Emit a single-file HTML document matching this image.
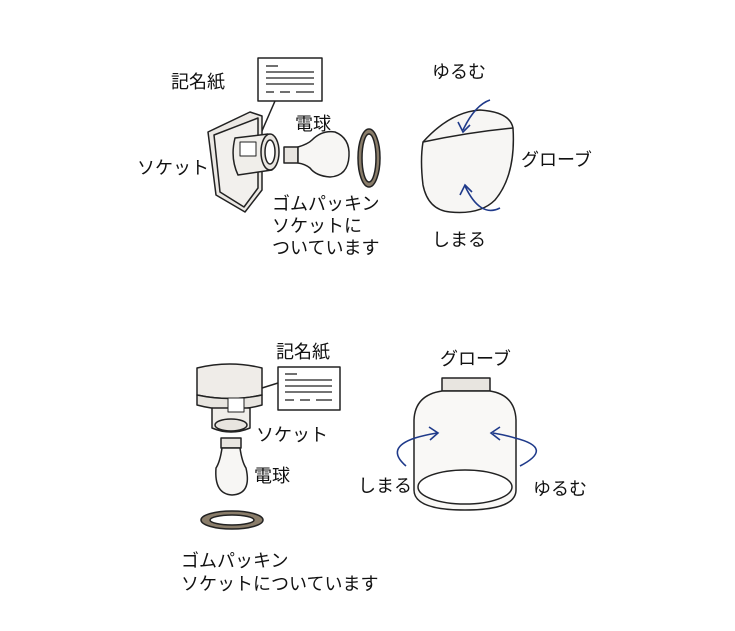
<!DOCTYPE html>
<html><head><meta charset="utf-8"><style>
html,body{margin:0;padding:0;background:#fff;}
svg{display:block}
text{font-family:"Liberation Sans","Noto Sans CJK JP",sans-serif;font-size:18px;fill:#111;}
</style></head><body>
<svg width="735" height="631" viewBox="0 0 735 631" xmlns="http://www.w3.org/2000/svg">
<g stroke="#222" stroke-width="1.5" fill="#f4f2ef" stroke-linejoin="round">
<rect x="258" y="58" width="64" height="43" fill="#fff"/>
<g stroke-width="1.3"><line x1="266" y1="66" x2="278" y2="66"/><line x1="266" y1="72" x2="314" y2="72"/><line x1="266" y1="78" x2="314" y2="78"/><line x1="266" y1="84" x2="314" y2="84"/><line x1="266" y1="92" x2="274" y2="92"/><line x1="280" y1="92" x2="290" y2="92"/><line x1="296" y1="92" x2="314" y2="92"/></g>
<line x1="275" y1="101" x2="258" y2="140" fill="none"/>
<path d="M208 132 L250 112 L262 116 L262 190 L245 212 L216 195 Z" fill="#ebe8e4"/>
<path d="M214 135 L258 118 L258 188 L244 207 L220 192 Z" fill="#f2f0ed"/>
<path d="M235 138 L268 134 L272 170 L238 175 Q230 158 235 138 Z" fill="#f0eeea"/>
<ellipse cx="270" cy="152" rx="9" ry="18" fill="#e8e5e0"/>
<ellipse cx="270" cy="152" rx="5" ry="12" fill="#fff"/>
<rect x="240" y="142" width="16" height="14" fill="#fff" stroke-width="1"/>
<rect x="284" y="147" width="14" height="16" fill="#e8e5e0"/>
<path d="M298 147 Q308 144 312 140 Q322 130 335 132 Q350 138 349 156 Q348 176 330 177 Q316 176 310 168 Q305 164 298 163 Z" fill="#f7f6f4"/>
<ellipse cx="369" cy="158" rx="11" ry="29" fill="#8a7d6a"/>
<ellipse cx="369" cy="158" rx="7" ry="24" fill="#fff"/>
<path d="M423 142 Q450 112 480 110 Q510 112 513 128 Q516 175 495 200 Q480 215 450 212 Q428 210 423 185 Q420 160 423 142 Z" fill="#f7f6f4"/>
<path d="M423 142 Q470 132 513 128" fill="none"/>
</g>
<g fill="none" stroke="#1f3a8a" stroke-width="1.6">
<path d="M490 100 Q475 105 463 130"/><path d="M458 122 L463 132 L470 125"/>
<path d="M500 208 Q480 218 465 186"/><path d="M460 195 L465 185 L472 192"/>
</g>
<g stroke="#222" stroke-width="1.5" fill="#f4f2ef" stroke-linejoin="round">
<path d="M197 368 Q230 360 262 368 L262 395 Q230 402 197 395 Z" fill="#efece8"/>
<path d="M197 395 Q230 402 262 395 L262 405 Q230 414 197 405 Z" fill="#e8e5e0"/>
<path d="M212 408 L250 408 L250 428 Q231 436 212 428 Z" fill="#f0eeea"/>
<ellipse cx="231" cy="425" rx="16" ry="6" fill="#e8e5e0"/>
<rect x="228" y="398" width="16" height="14" fill="#fff" stroke-width="1"/>
<line x1="262" y1="388" x2="278" y2="383" fill="none"/>
<rect x="278" y="367" width="62" height="43" fill="#fff"/>
<g stroke-width="1.3"><line x1="285" y1="374" x2="297" y2="374"/><line x1="285" y1="380" x2="332" y2="380"/><line x1="285" y1="386" x2="332" y2="386"/><line x1="285" y1="392" x2="332" y2="392"/><line x1="285" y1="400" x2="294" y2="400"/><line x1="300" y1="400" x2="310" y2="400"/><line x1="316" y1="400" x2="332" y2="400"/></g>
<rect x="221" y="438" width="20" height="10" fill="#e8e5e0"/>
<path d="M222 448 L240 448 Q242 462 246 468 Q252 494 232 495 Q214 494 216 468 Q220 462 222 448 Z" fill="#f7f6f4"/>
<ellipse cx="232" cy="520" rx="31" ry="9" fill="#8a7d6a"/>
<ellipse cx="232" cy="520" rx="22" ry="5" fill="#fff"/>
<rect x="442" y="378" width="48" height="13" fill="#e8e5e0"/>
<path d="M442 391 Q415 395 414 420 L414 490 Q414 510 465 510 Q516 510 516 490 L516 420 Q515 395 490 391 Z" fill="#f9f8f6"/>
<ellipse cx="465" cy="487" rx="47" ry="17" fill="#fff"/>
</g>
<g fill="none" stroke="#1f3a8a" stroke-width="1.6">
<path d="M406 466 Q385 448 415 438 Q425 435 437 433"/><path d="M429 427 L438 433 L430 440"/>
<path d="M520 466 Q555 448 515 438 Q505 435 493 433"/><path d="M500 427 L491 433 L500 440"/>
</g>
<text x="171" y="88">記名紙</text>
<text x="137" y="174">ソケット</text>
<text x="295" y="130">電球</text>
<text x="272" y="210">ゴムパッキン</text>
<text x="272" y="232">ソケットに</text>
<text x="272" y="254">ついています</text>
<text x="432" y="78">ゆるむ</text>
<text x="521" y="166">グローブ</text>
<text x="432" y="246">しまる</text>
<text x="276" y="358">記名紙</text>
<text x="440" y="365">グローブ</text>
<text x="256" y="441">ソケット</text>
<text x="254" y="482">電球</text>
<text x="358" y="492">しまる</text>
<text x="533" y="495">ゆるむ</text>
<text x="181" y="567">ゴムパッキン</text>
<text x="181" y="590">ソケットについています</text>
</svg>
</body></html>
